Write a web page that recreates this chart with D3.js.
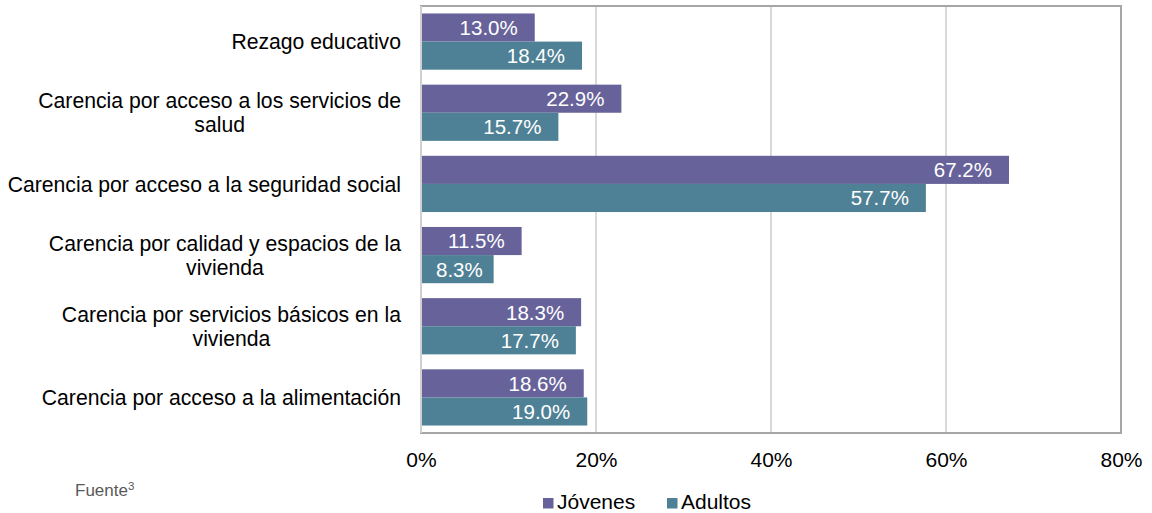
<!DOCTYPE html>
<html>
<head>
<meta charset="utf-8">
<script src="https://cdn.jsdelivr.net/npm/d3@7"></script>
<style>
  body { margin: 0; background: #fff; }
  svg { font-family: "Liberation Sans", Arial, sans-serif; }
</style>
</head>
<body>
<svg id="chart" width="1152" height="513"></svg>
<script>
// data
const categories = [
  "Rezago educativo",
  "Carencia por acceso a los servicios de salud",
  "Carencia por acceso a la seguridad social",
  "Carencia por calidad y espacios de la vivienda",
  "Carencia por servicios básicos en la vivienda",
  "Carencia por acceso a la alimentación"
];
const categoryLines = [
  ["Rezago educativo"],
  ["Carencia por acceso a los servicios de", "salud"],
  ["Carencia por acceso a la seguridad social"],
  ["Carencia por calidad y espacios de la", "vivienda"],
  ["Carencia por servicios básicos en la", "vivienda"],
  ["Carencia por acceso a la alimentación"]
];
const jovenes = [13.0, 22.9, 67.2, 11.5, 18.3, 18.6];
const adultos = [18.4, 15.7, 57.7, 8.3, 17.7, 19.0];
const seriesNames = ["Jóvenes", "Adultos"];
const xTicks = [0, 20, 40, 60, 80];

const colors = { "Jóvenes": "#67639A", "Adultos": "#4F8196" };

const data = categories.map((c, i) => ({
  cat: c, lines: categoryLines[i],
  values: [
    { s: "Jóvenes", v: jovenes[i] },
    { s: "Adultos", v: adultos[i] }
  ]
}));

const svg = d3.select("#chart");
const plotLeft = 421, plotRight = 1121, plotTop = 6, plotBottom = 433;

const x = d3.scaleLinear().domain([0, 80]).range([plotLeft, plotRight]);
const y = d3.scaleBand().domain(categories).range([plotTop, plotBottom]).paddingInner(0.21).paddingOuter(0.105);
const ySub = d3.scaleBand().domain(seriesNames).range([0, y.bandwidth()]);

// gridlines
svg.append("g")
  .selectAll("line")
  .data(xTicks.slice(1, -1))
  .join("line")
  .attr("x1", d => x(d)).attr("x2", d => x(d))
  .attr("y1", plotTop).attr("y2", plotBottom)
  .attr("stroke", "#d9d9d9")
  .attr("stroke-width", 2);

// bars
const groups = svg.append("g")
  .selectAll("g")
  .data(data)
  .join("g")
  .attr("transform", d => `translate(0, ${y(d.cat)})`);

groups.selectAll("rect")
  .data(d => d.values)
  .join("rect")
  .attr("x", x(0))
  .attr("y", d => ySub(d.s))
  .attr("width", d => x(d.v) - x(0))
  .attr("height", ySub.bandwidth())
  .attr("fill", d => colors[d.s]);

// value labels, inside end; pushed right when the bar is too short
groups.selectAll("text")
  .data(d => d.values)
  .join("text")
  .attr("y", d => ySub(d.s) + ySub.bandwidth() / 2)
  .attr("dy", "0.36em")
  .attr("text-anchor", "end")
  .attr("fill", "#fff")
  .attr("font-size", "20.5px")
  .text(d => d.v.toFixed(1) + "%")
  .attr("x", function(d) {
    const w = this.getComputedTextLength();
    return Math.max(x(d.v) - 17, x(0) + 15 + w);
  });

// plot frame
svg.append("rect")
  .attr("x", plotLeft).attr("y", plotTop)
  .attr("width", plotRight - plotLeft).attr("height", plotBottom - plotTop)
  .attr("fill", "none")
  .attr("stroke", "#a6a6a6")
  .attr("stroke-width", 2);
// left axis line lighter
svg.append("line")
  .attr("x1", plotLeft).attr("x2", plotLeft)
  .attr("y1", plotTop).attr("y2", plotBottom)
  .attr("stroke", "#d0d0d0").attr("stroke-width", 2);

// x axis
const xAxis = d3.axisBottom(x).tickValues(xTicks).tickSize(0).tickPadding(0).tickFormat(d => d + "%");
const xAxisG = svg.append("g")
  .attr("transform", `translate(0, ${plotBottom})`)
  .call(xAxis);
xAxisG.select(".domain").remove();
xAxisG.selectAll("text")
  .attr("y", 34)
  .attr("dy", 0)
  .attr("fill", "#000")
  .attr("font-size", "21px")
  .attr("font-family", "Liberation Sans, Arial, sans-serif");

// category labels, wrapped lines centred in a right-aligned block
const labelRight = 401, lineH = 24;
data.forEach(d => {
  const g = svg.append("g");
  const texts = d.lines.map(l => g.append("text")
    .attr("font-size", "21.2px")
    .attr("fill", "#000")
    .attr("text-anchor", "middle")
    .text(l));
  const maxW = d3.max(texts, t => t.node().getComputedTextLength());
  const cy = y(d.cat) + y.bandwidth() / 2;
  const y0 = cy - (d.lines.length - 1) * lineH / 2;
  texts.forEach((t, i) => t
    .attr("x", labelRight - maxW / 2)
    .attr("y", y0 + i * lineH)
    .attr("dy", "0.36em"));
});

// legend
const legend = svg.append("g").attr("transform", "translate(543, 498)");
const legendX = [0, 124];
seriesNames.forEach((s, i) => {
  legend.append("rect")
    .attr("x", legendX[i]).attr("y", 0)
    .attr("width", 10.5).attr("height", 10.5)
    .attr("fill", colors[s]);
  legend.append("text")
    .attr("x", legendX[i] + 14).attr("y", 10.5)
    .attr("font-size", "21px")
    .attr("fill", "#000")
    .text(s);
});

// source note
const src = svg.append("text")
  .attr("x", 75).attr("y", 496)
  .attr("font-size", "17px")
  .attr("fill", "#595959")
  .text("Fuente");
src.append("tspan").attr("dy", -6).attr("font-size", "11.5px").text("3");
</script>
</body>
</html>
